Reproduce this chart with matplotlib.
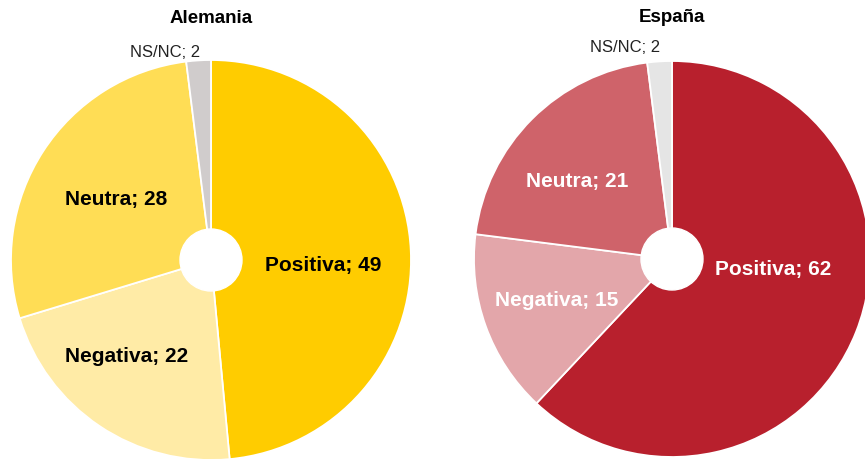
import numpy as np
import matplotlib.pyplot as plt

plt.rcParams['font.family'] = ['Liberation Sans', 'DejaVu Sans']

categorias = ['Positiva', 'Negativa', 'Neutra', 'NS/NC']
alemania = [49, 22, 28, 2]
espana = [62, 15, 21, 2]

col_alemania = ['#FFCC00', '#FFEBA6', '#FFDD55', '#D0CCCC']
col_espana = ['#B8202D', '#E3A6AA', '#CF636A', '#E5E5E5']

W, H = 865, 460
fig = plt.figure(figsize=(W / 100, H / 100), dpi=100)


def make_axes(cx, cy, r):
    # cx, cy in pixels from top-left; r = pie radius in pixels
    half = 1.25 * r
    ax = fig.add_axes([(cx - half) / W, (H - cy - half) / H, 2 * half / W, 2 * half / H])
    ax.set_xlim(-1.25, 1.25)
    ax.set_ylim(-1.25, 1.25)
    ax.set_aspect('equal')
    ax.axis('off')
    return ax


def draw(ax, vals, cols, txtcol, title, label_pos, r):
    ax.pie(vals, colors=cols, startangle=90, counterclock=False, radius=1,
           wedgeprops=dict(edgecolor='white', linewidth=1.3))
    ax.add_patch(plt.Circle((0, 0), 31 / r, color='white', zorder=5))
    for i, (cat, v) in enumerate(zip(categorias, vals)):
        x, y = label_pos[i]
        if cat == 'NS/NC':
            ax.text(x / r, y / r, f'{cat}; {v}', ha='center', va='center',
                    fontsize=12, color='#222222')
        else:
            ax.text(x / r, y / r, f'{cat}; {v}', ha='center', va='center',
                    fontsize=15, fontweight='bold', color=txtcol, zorder=6)
    ax.text(0, 243 / r, title, ha='center', va='center', fontsize=13.5,
            fontweight='bold')


# label offsets from pie centre, in pixels (x right, y up)
pos_al = [(112, -5), (-84, -96), (-95, 62), (-46, 209)]
pos_es = [(101, -10), (-115, -41), (-95, 79), (-47, 213)]

ax1 = make_axes(211, 261, 200)
draw(ax1, alemania, col_alemania, 'black', 'Alemania', pos_al, 200)

ax2 = make_axes(672, 260, 198)
draw(ax2, espana, col_espana, 'white', 'España', pos_es, 198)

fig.savefig('out.png', dpi=100)
